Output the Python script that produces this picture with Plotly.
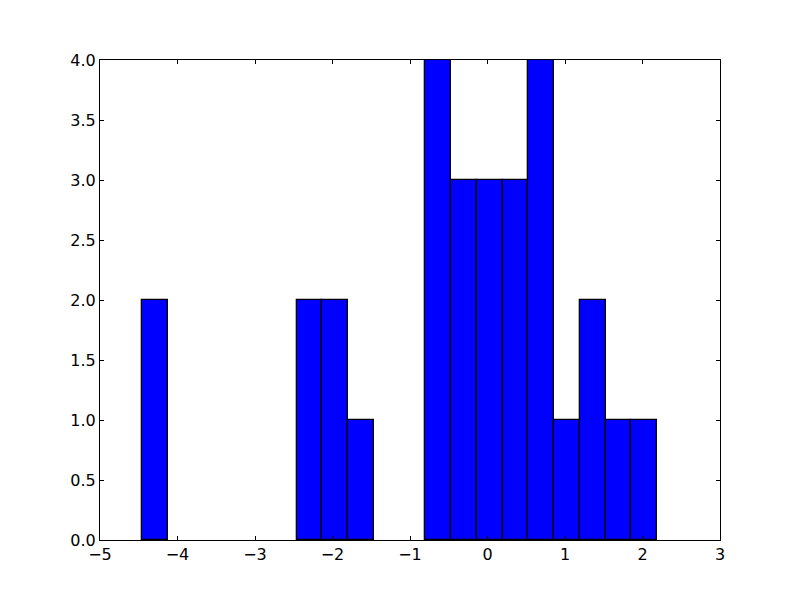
import numpy as np
import plotly.graph_objects as go

# Histogram data (20 equal bins)
bin_start = -4.455
bin_end = 2.19
counts = [2, 0, 0, 0, 0, 0, 2, 2, 1, 0, 0, 4, 3, 3, 3, 4, 1, 2, 1, 1]

x_ticks = [-5, -4, -3, -2, -1, 0, 1, 2, 3]
x_tick_labels = ["\u22125", "\u22124", "\u22123", "\u22122", "\u22121", "0", "1", "2", "3"]
y_ticks = [0.0, 0.5, 1.0, 1.5, 2.0, 2.5, 3.0, 3.5, 4.0]
y_tick_labels = ["0.0", "0.5", "1.0", "1.5", "2.0", "2.5", "3.0", "3.5", "4.0"]

edges = np.linspace(bin_start, bin_end, len(counts) + 1)
centers = (edges[:-1] + edges[1:]) / 2
width = edges[1] - edges[0]
line_widths = [1.3 if c > 0 else 0 for c in counts]

fig = go.Figure(go.Bar(
    x=centers, y=counts, width=width,
    marker=dict(color="#0000ff", line=dict(color="black", width=line_widths)),
    hoverinfo="skip",
))

axis_common = dict(
    showgrid=False, zeroline=False, showline=True, linecolor="black", linewidth=1,
    mirror="ticks", ticks="inside", ticklen=4, tickwidth=1, tickcolor="black",
    tickfont=dict(family="DejaVu Sans", size=16, color="black"),
)

fig.update_layout(
    width=800, height=600,
    margin=dict(l=92, r=88, t=52, b=68),
    paper_bgcolor="white", plot_bgcolor="white",
    showlegend=False, bargap=0,
    xaxis=dict(range=[-5, 3], tickvals=x_ticks, ticktext=x_tick_labels, **axis_common),
    yaxis=dict(range=[0, 4], tickvals=y_ticks, ticktext=y_tick_labels, **axis_common),
)

fig.write_html("out.html")
